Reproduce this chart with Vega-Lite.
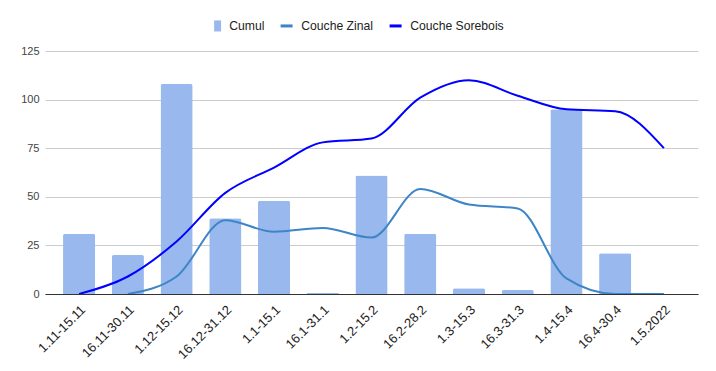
{
  "$schema": "https://vega.github.io/schema/vega-lite/v6.json",
  "width": 653,
  "height": 243,
  "autosize": "none",
  "padding": {"left": 45, "top": 51, "right": 18, "bottom": 77},
  "background": "#ffffff",
  "config": {
    "view": {"stroke": null},
    "font": "Liberation Sans",
    "axis": {"labelFont": "Liberation Sans", "labelColor": "#444444", "labelFontSize": 11}
  },
  "data": {
    "values": [
      {"periode": "1.11-15.11", "Cumul": 31, "Couche Zinal": null, "Couche Sorebois": 0},
      {"periode": "16.11-30.11", "Cumul": 20, "Couche Zinal": 0, "Couche Sorebois": 9},
      {"periode": "1.12-15.12", "Cumul": 108, "Couche Zinal": 9, "Couche Sorebois": 27},
      {"periode": "16.12-31.12", "Cumul": 39, "Couche Zinal": 38, "Couche Sorebois": 52},
      {"periode": "1.1-15.1", "Cumul": 48, "Couche Zinal": 32, "Couche Sorebois": 65},
      {"periode": "16.1-31.1", "Cumul": 0.7, "Couche Zinal": 34, "Couche Sorebois": 78},
      {"periode": "1.2-15.2", "Cumul": 61, "Couche Zinal": 29, "Couche Sorebois": 80},
      {"periode": "16.2-28.2", "Cumul": 31, "Couche Zinal": 54, "Couche Sorebois": 101},
      {"periode": "1.3-15.3", "Cumul": 3, "Couche Zinal": 46, "Couche Sorebois": 110},
      {"periode": "16.3-31.3", "Cumul": 2, "Couche Zinal": 44, "Couche Sorebois": 102},
      {"periode": "1.4-15.4", "Cumul": 95, "Couche Zinal": 8, "Couche Sorebois": 95},
      {"periode": "16.4-30.4", "Cumul": 21, "Couche Zinal": 0, "Couche Sorebois": 94},
      {"periode": "1.5.2022", "Cumul": 0, "Couche Zinal": 0, "Couche Sorebois": 75}
    ]
  },
  "transform": [
    {"fold": ["Cumul", "Couche Zinal", "Couche Sorebois"], "as": ["serie", "valeur"]}
  ],
  "encoding": {
    "x": {
      "field": "periode",
      "type": "nominal",
      "sort": null,
      "scale": {"paddingInner": 0.34, "paddingOuter": 0.37},
      "axis": {
        "title": null,
        "labelAngle": -45,
        "labelAlign": "right",
        "labelBaseline": "top",
        "labelFontSize": 13,
        "labelColor": "#222222",
        "labelPadding": 9,
        "ticks": false,
        "domain": true,
        "domainColor": "#333333",
        "domainWidth": 1,
        "grid": false,
        "zindex": 1
      }
    },
    "y": {
      "field": "valeur",
      "type": "quantitative",
      "scale": {"domain": [0, 125], "nice": false},
      "axis": {
        "title": null,
        "values": [0, 25, 50, 75, 100, 125],
        "ticks": false,
        "domain": false,
        "grid": true,
        "gridColor": "#cccccc",
        "labelPadding": 6,
        "labelColor": "#444444"
      }
    },
    "color": {
      "field": "serie",
      "type": "nominal",
      "scale": {
        "domain": ["Cumul", "Couche Zinal", "Couche Sorebois"],
        "range": ["#99b9ee", "#3d85c6", "#0000ff"]
      },
      "legend": {
        "title": null,
        "orient": "none",
        "direction": "horizontal",
        "legendX": 163.5,
        "legendY": -31.5,
        "padding": 0,
        "labelFontSize": 12.2,
        "labelColor": "#222222",
        "labelOffset": 8.5,
        "columnPadding": 16,
        "symbolSize": 144,
        "symbolStrokeWidth": 0,
        "symbolOpacity": 1,
        "encode": {
          "symbols": {
            "update": {
              "shape": {"signal": "datum.value === 'Cumul' ? 'M-0.083,-0.92L1.083,-0.92L1.083,0.92L-0.083,0.92Z' : 'M-1,-0.25L1,-0.25L1,0.25L-1,0.25Z'"},
              "strokeWidth": {"value": 0}
            }
          }
        }
      }
    }
  },
  "layer": [
    {
      "transform": [{"filter": "datum.serie === 'Cumul'"}],
      "mark": {"type": "bar", "cornerRadiusTopLeft": 2, "cornerRadiusTopRight": 2}
    },
    {
      "transform": [{"filter": "datum.serie !== 'Cumul' && datum.valeur != null"}],
      "mark": {"type": "line", "interpolate": "monotone", "strokeWidth": 2}
    }
  ]
}
